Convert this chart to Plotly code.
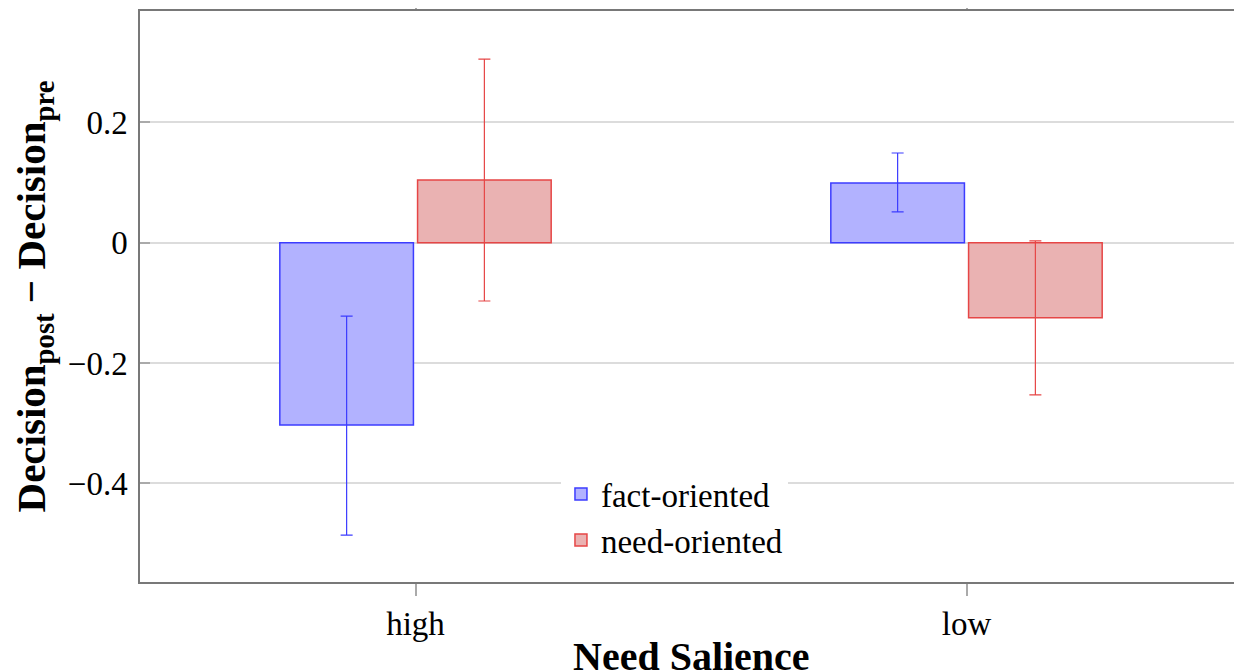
import plotly.graph_objects as go

categories = ["high", "low"]
fact_values = [-0.303, 0.099]
fact_err_plus = [0.181, 0.050]
fact_err_minus = [0.183, 0.048]
need_values = [0.104, -0.125]
need_err_plus = [0.201, 0.128]
need_err_minus = [0.201, 0.128]
y_ticks = [-0.4, -0.2, 0, 0.2]
y_tick_labels = ["−0.4", "−0.2", "0", "0.2"]

FONT = "Liberation Serif"

fig = go.Figure()
fig.add_trace(go.Bar(
    x=categories, y=fact_values, name="fact-oriented",
    marker=dict(color="rgb(178,178,255)", line=dict(color="rgb(60,60,255)", width=1.5)),
    error_y=dict(type="data", array=fact_err_plus, arrayminus=fact_err_minus,
                 color="rgb(60,60,255)", thickness=1.2, width=6),
))
fig.add_trace(go.Bar(
    x=categories, y=need_values, name="need-oriented",
    marker=dict(color="rgb(234,178,178)", line=dict(color="rgb(230,70,70)", width=1.5)),
    error_y=dict(type="data", array=need_err_plus, arrayminus=need_err_minus,
                 color="rgb(230,70,70)", thickness=1.2, width=6),
))

fig.update_layout(
    width=1234, height=663,
    margin=dict(l=132, r=0, t=3, b=89),
    paper_bgcolor="white", plot_bgcolor="white",
    barmode="group", bargap=0.5, bargroupgap=0.03,
    font=dict(family=FONT, size=33, color="black"),
    showlegend=True,
    legend=dict(x=0.382, y=0.203, xanchor="left", yanchor="top",
                bgcolor="white", borderwidth=0,
                font=dict(family=FONT, size=33), tracegroupgap=0),
    xaxis=dict(
        range=[-0.5, 1.5], showgrid=False, automargin=False,
        showline=True, linecolor="rgb(120,120,120)", linewidth=1.5, mirror="ticks",
        ticks="outside", ticklen=12, tickcolor="rgb(170,170,170)", tickwidth=1.5,
        tickfont=dict(family=FONT, size=33),
    ),
    yaxis=dict(
        range=[-0.564, 0.385], tickvals=y_ticks, ticktext=y_tick_labels,
        showgrid=True, gridcolor="rgb(220,220,220)", gridwidth=1.5,
        zeroline=False, automargin=False,
        showline=True, linecolor="rgb(120,120,120)", linewidth=1.5,
        ticks="inside", ticklen=10, tickcolor="rgb(170,170,170)", tickwidth=1.5,
        ticklabelstandoff=4,
        tickfont=dict(family=FONT, size=33),
        title=dict(text="<b>Decision<sub>post</sub> − Decision<sub>pre</sub></b>",
                   font=dict(family=FONT, size=41), standoff=12),
    ),
    annotations=[dict(
        text="<b>Need Salience</b>", xref="paper", yref="paper", x=0.5, y=0,
        xanchor="center", yanchor="middle", yshift=-74, showarrow=False,
        font=dict(family=FONT, size=40, color="black"),
    )],
)

fig.write_html("out.html")
